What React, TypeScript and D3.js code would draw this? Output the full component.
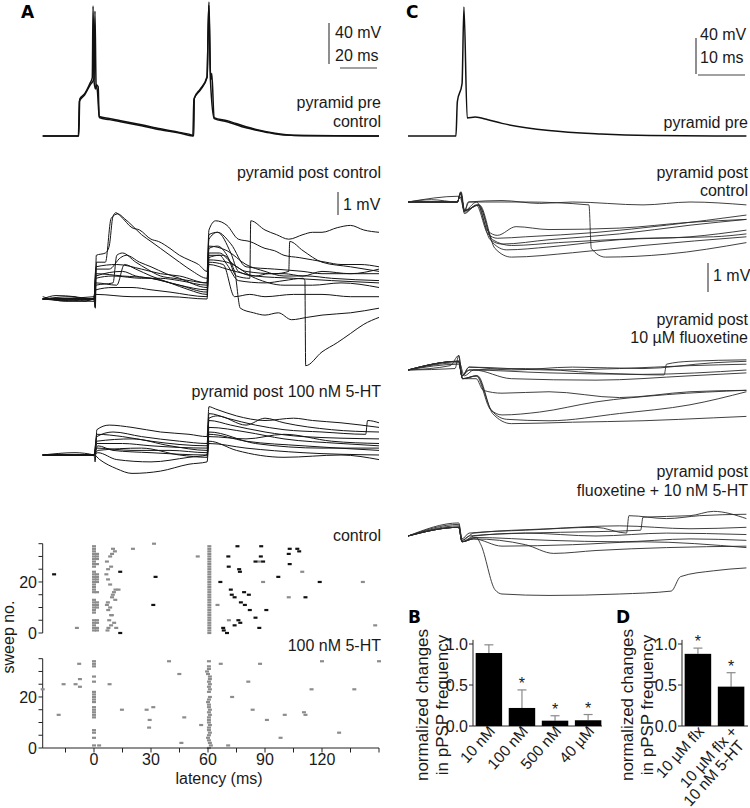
import React from 'react';
import * as d3 from 'd3';

type Pt = [number, number];

const FONT = '"Liberation Sans", Arial, Helvetica, sans-serif';
const BOLD = '"DejaVu Sans", Verdana, sans-serif';

// ---------- panel A : presynaptic pyramid, two spikes (ms, mV) ----------
const preA1: Pt[] = [[-27, -70], [-8, -70], [-7.5, -34], [-5, -29], [-2, -18], [-0.9, -13], [-0.5, 57], [0.1, -18], [0.8, -24], [1.3, -20], [2.2, -22], [2.7, -51], [8, -53], [14, -55], [25, -59], [35, -63], [45, -66.5], [52, -69.5], [52.5, -70], [52.8, -33], [56, -24], [59.5, -12], [60.5, 61], [61.4, -15], [62, -9], [63.2, -52], [70, -55], [80, -61], [90, -65.5], [100, -68.5], [110, -69.7], [150, -70]];
const preA2: Pt[] = [[-27, -70], [-8.2, -70], [-7.7, -36], [-5, -30], [-2, -20], [0, -14], [0.5, 52], [1.1, -20], [1.8, -26], [2.8, -52], [8, -54], [14, -56], [25, -60], [35, -64], [45, -67], [52, -70], [52.6, -34], [56, -25], [59.5, -13], [60.4, 58], [61.3, -16], [63.3, -53], [70, -56], [80, -62], [90, -66], [100, -69], [150, -70]];

// ---------- panel A : pyramid post, control (ms, mV above baseline) ----------
const postCtrlA: Pt[][] = [
  [[-27, 0], [-20, 0.15], [-10, 0.1], [-5, -0.1], [0, 0], [0.6, -0.35], [1.2, 1.9], [6, 2.0], [8, 2.3], [10, 3.6], [11.5, 3.75], [14, 3.6], [20, 3.1], [24, 3.0], [30, 2.6], [34, 2.5], [40, 2.2], [45, 1.9], [50, 1.7], [55, 1.5], [59.5, 1.2], [60.5, 3.0], [64, 3.4], [70, 3.2], [76, 2.6], [82, 2.5], [90, 2.2], [95, 2.1], [100, 1.9], [108, 1.8], [115, 1.7], [122, 1.6], [130, 1.5], [140, 1.5], [150, 1.4]],
  [[-27, 0.1], [-15, -0.1], [0, 0], [0.7, -0.4], [1.3, 1.6], [6, 1.6], [9, 3.5], [12.5, 3.7], [16, 3.5], [20, 3.2], [25, 2.8], [30, 2.5], [35, 2.2], [40, 1.9], [45, 1.6], [52, 1.2], [59.5, 0.9], [60.5, 2.6], [65, 2.9], [72, 2.0], [76, 1.2], [85, 1.0], [92, 1.1], [100, 1.1], [110, 1.0], [120, 1.2], [135, 1.1], [150, 1.3]],
  [[-27, 0], [-12, 0.1], [0, 0], [1, 0.6], [10, 0.7], [12, 1.9], [15, 2.0], [22, 1.6], [28, 1.3], [35, 1.0], [42, 0.9], [50, 0.8], [59.5, 0.7], [60.5, 2.2], [65, 2.3], [70, 1.9], [75, 1.0], [82, 0.9], [82.5, 3.4], [90, 3.0], [96, 2.8], [102.5, 2.6], [110, 2.8], [115, 2.9], [120, 2.9], [128, 3.1], [135, 3.2], [142, 3.0], [150, 2.9]],
  [[-27, 0], [-8, -0.1], [0, 0], [1, 1.3], [8, 1.3], [14, 1.8], [17, 1.9], [24, 1.6], [30, 1.4], [38, 1.1], [45, 0.9], [59.5, 0.5], [60.5, 2.0], [66, 2.0], [72, 1.6], [80, 1.2], [95, 1.1], [102.5, 1.2], [103, 2.5], [110, 2.1], [120, 1.6], [135, 1.4], [150, 1.2]],
  [[-27, 0], [0, 0.1], [1, 1.0], [15, 1.2], [22, 1.0], [30, 0.9], [45, 0.6], [59.5, 0.4], [60.5, 1.8], [66, 1.9], [70, 1.5], [76, 0.8], [90, 0.7], [100, 0.8], [110, 0.9], [111, 0.8], [111.4, -2.9], [120, -2.3], [128, -1.9], [135, -1.5], [142, -1.1], [150, -0.8]],
  [[-27, 0], [0, 0], [1, 0.7], [12, 0.6], [16, 1.5], [22, 1.3], [30, 1.0], [40, 0.7], [50, 0.4], [59.5, 0.2], [60.5, 1.9], [68, 1.9], [74, 1.2], [77, -0.4], [84, -0.6], [90, -0.7], [97, -0.6], [104, -0.9], [112, -0.8], [120, -0.7], [135, -0.6], [150, -0.4]],
  [[-27, 0], [0, -0.1], [1, 0.4], [10, 0.5], [20, 0.5], [30, 0.4], [40, 0.3], [59.5, 0.1], [60.5, 1.6], [68, 1.5], [74, 0.1], [82, 0.2], [90, 0.1], [105, 0.2], [120, 0.2], [135, 0.1], [150, 0.1]],
  [[-27, 0], [0, 0], [1, 0.9], [10, 1.0], [25, 0.9], [35, 0.9], [45, 0.8], [59.5, 0.6], [60.5, 2.3], [70, 2.1], [80, 1.5], [90, 1.2], [100, 1.0], [112, 1.0], [125, 0.9], [150, 0.8]],
  [[-27, 0], [0, 0], [1, 0.2], [20, 0.1], [40, 0.1], [59.5, 0.0], [60.5, 1.5], [70, 1.3], [85, 1.0], [105, 0.9], [125, 0.8], [150, 0.7]],
  [[-27, 0], [0, 0], [1, 1.4], [12, 1.5], [25, 1.3], [35, 1.1], [45, 1.0], [59.5, 0.7], [60.5, 2.8], [65, 2.9], [72, 2.4], [80, 1.4], [95, 1.3], [110, 1.2], [120, 1.1], [150, 1.1]],
  [[-27, 0], [0, 0], [1, 1.1], [15, 1.0], [30, 0.9], [45, 0.6], [59.5, 0.3], [60.5, 1.7], [70, 1.6], [85, 0.9], [100, 0.6], [115, 0.6], [130, 0.7], [150, 0.5]],
];

// ---------- panel A : pyramid post, 100 nM 5-HT ----------
const postHtA: Pt[][] = [
  [[-27, 0], [-10, 0.1], [0, 0], [0.6, -0.3], [1.5, 1.1], [8, 1.3], [20, 1.2], [35, 1.0], [50, 0.9], [59.5, 0.8], [60.5, 2.1], [64, 2.0], [75, 1.7], [90, 1.5], [105, 1.6], [115, 1.5], [130, 1.4], [150, 1.2]],
  [[-27, 0], [0, 0], [1.5, 0.8], [10, 1.0], [25, 0.8], [45, 0.6], [59.5, 0.5], [60.5, 1.8], [70, 1.6], [85, 1.3], [100, 1.1], [120, 1.0], [143, 0.9], [144, 1.5], [150, 1.4]],
  [[-27, 0], [0, 0], [1.5, 0.5], [15, 0.5], [30, 0.4], [59.5, 0.3], [60.5, 1.5], [72, 1.3], [90, 1.0], [110, 0.8], [150, 0.7]],
  [[-27, 0], [0, 0], [1.5, 0.3], [20, 0.2], [40, 0.2], [59.5, 0.1], [60.5, 1.2], [80, 1.0], [100, 0.7], [130, 0.5], [150, 0.4]],
  [[-27, 0], [0, 0], [2, 0.1], [12, -0.2], [30, -0.3], [50, -0.1], [59.5, 0], [60.5, 0.9], [80, 0.6], [110, 0.4], [150, 0.2]],
  [[-27, 0], [0, 0], [3, -0.2], [12, -0.6], [20, -0.8], [35, -0.7], [50, -0.4], [59.5, -0.3], [60.5, 0.5], [80, 0.3], [110, 0.1], [150, 0]],
  [[-27, 0], [0, 0], [1.5, 0.6], [20, 0.7], [40, 0.4], [59.5, 0.2], [60.5, 0.8], [80, 0.7], [100, 0.9], [125, 0.6], [150, 0.5]],
  [[-27, 0], [0, 0], [2, 0.2], [25, 0.3], [45, 0], [59.5, -0.1], [60.5, 0.6], [75, 0.2], [100, -0.1], [130, 0], [150, -0.2]],
  [[-27, 0], [0, 0], [1.5, 0.9], [15, 0.8], [30, 0.6], [59.5, 0.4], [60.5, 1.6], [65, 1.7], [80, 1.3], [90, 1.6], [100, 1.4], [125, 1.1], [150, 1.0]],
  [[-27, 0], [0, 0], [2, 0.4], [10, 0.2], [30, 0.1], [59.5, 0.0], [60.5, 1.0], [85, 0.5], [120, 0.3], [150, 0.3]],
];

// ---------- panel A : raster (latency ms, sweep no.) ----------
const ctrlCol0Sweeps = [1, 2, 3, 4, 5, 8, 9, 10, 11, 12, 13, 16, 17, 18, 19, 20, 21, 22, 23, 24, 26, 27, 28, 29, 30, 31, 32, 33, 34];
const ctrlCol1Sweeps = [1, 2, 4, 5, 10, 11, 12, 16, 20, 21, 22, 23, 27, 29, 30, 31];
const ctrlCol60Sweeps = [0, 1, 2, 3, 4, 5, 6, 7, 8, 9, 10, 11, 12, 13, 14, 15, 16, 17, 18, 19, 20, 21, 22, 23, 24, 25, 26, 27, 28, 29, 30, 31, 32, 33, 34];
const ctrlGray: Pt[] = [[7.1, 1], [7.6, 2], [9, 3], [8, 5], [9, 7], [7.5, 9], [6.8, 11], [7.3, 12], [9.5, 14], [10.5, 16], [11.3, 17], [8.5, 19], [7.4, 21], [6.5, 23], [7.4, 25], [9, 26], [6.8, 28], [8.5, 30], [9.5, 31], [11, 32], [10, 33], [9.9, 15], [12.9, 17], [11.2, 13], [8.5, 10], [9.4, 7], [10.6, 4], [11.7, 2], [-9, 2], [20.5, 33], [31.6, 35], [54.6, 30], [65, 11], [71, 5], [87, 28], [89, 20], [102.5, 14], [109.6, 24], [141.5, 20], [148, 3]];
const ctrlBlack: Pt[] = [[-21, 23], [13.8, 24], [13.8, 0], [32.4, 22], [31.2, 11], [66.5, 20], [70.9, 26], [76.8, 24], [76.4, 25], [72, 17], [72.5, 15], [74, 14], [79, 16], [81.5, 15], [77.3, 12], [79.4, 11], [82, 9], [85, 6], [90.7, 9], [76, 5], [77, 4], [74, 3], [68, 2], [68.3, 1], [70, 0], [87, 2], [85, 28], [89, 28], [103, 27], [97, 22], [118.8, 20], [111.3, 14], [75.5, 34], [88, 34], [107, 33], [103, 33], [70.7, 30], [87.8, 30], [102.5, 31], [108, 32]];

const htCol0Sweeps = [34, 33, 32, 28, 26, 22, 21, 20, 19, 18, 16, 15, 14, 13, 12, 7, 6, 4, 1];
const htCol60: Pt[] = [[60.5, 0], [61.5, 1], [61, 2], [60.5, 3], [60, 4], [60.5, 5], [61, 6], [60.5, 7], [60.5, 8], [61, 9], [60.5, 10], [60.5, 11], [60.5, 12], [61, 13], [60.5, 14], [61, 15], [60.5, 16], [60.5, 17], [60, 18], [60.5, 19], [61, 20], [60.5, 22], [61, 23], [60.5, 24], [61, 25], [60.5, 26], [61, 27], [61, 28], [60, 29], [59.5, 30], [60.5, 31], [60.5, 32], [60.5, 34]];
const htGray: Pt[] = [[2.7, 1], [-27, 23], [-18.6, 13], [-16, 25], [-9.7, 25], [-7.4, 27], [-7.8, 33], [-7.4, 24], [8.2, 25], [14.7, 15], [27.7, 15], [31.2, 16], [29.3, 11], [29, 8], [39.5, 34], [44.9, 29], [46, 2], [47.5, 12], [56.4, 9], [66.7, 33], [70.6, 1], [72.7, 20], [81.2, 26], [83.5, 15], [87.4, 33], [91, 11], [98.2, 4], [100.4, 13], [110.5, 14], [111.3, 13], [114.5, 23], [120, 34], [129, 6], [137, 23], [150, 34]];

// ---------- panel B / D : normalized change in pPSP frequency ----------
const bCats = ['10 nM', '100 nM', '500 nM', '40 µM'];
const bMean = [0.89, 0.22, 0.065, 0.07];
const bErr = [0.1, 0.22, 0.06, 0.07];
const bStar = [false, true, true, true];

const dCats = [['10 µM flx'], ['10 µM flx +', '10 nM 5-HT']];
const dMean = [0.88, 0.48];
const dErr = [0.07, 0.17];
const dStar = [true, true];

const barTicks = [0, 0.5, 1.0];

// ---------- panel C : presynaptic spike (ms, mV) ----------
const preC: Pt[] = [[0, -70], [10.2, -70], [10.5, -32], [11.5, -12], [11.9, 73], [12.6, -50], [14.3, -49], [17, -52], [20, -56], [30, -64], [41, -67.8], [51.5, -69.4], [72, -70]];

// ---------- panel C : pyramid post, control ----------
const postCtrlC: Pt[][] = [
  [[0, 0], [5, 0.08], [10.5, 0], [11.2, 0.35], [12, -0.35], [12.8, 0], [20, 0.05], [28, -0.05], [35, 0], [50, -0.1], [60, 0], [72, -0.1]],
  [[0, 0], [10.5, 0], [11.2, 0.3], [12, -0.3], [13, 0], [25, 0], [38.5, -0.1], [39, -1.6], [42, -1.9], [55, -1.8], [72, -1.4]],
  [[0, 0], [10.5, 0], [11.2, 0.3], [12, -0.4], [14.5, -0.1], [17, -1.1], [19, -1.25], [25, -1.2], [40, -1.05], [55, -0.8], [72, -0.45]],
  [[0, 0], [10.5, 0], [11.3, 0.35], [12.1, -0.35], [14.8, -0.1], [17.5, -1.3], [20, -1.45], [30, -1.3], [45, -1.1], [60, -0.8], [72, -0.6]],
  [[0, 0], [10.5, 0], [11.2, 0.3], [12, -0.3], [15, -0.1], [18, -1.4], [21, -1.65], [30, -1.55], [45, -1.3], [60, -1.2], [72, -0.97]],
  [[0, 0], [10.5, 0], [11.2, 0.3], [12, -0.3], [15.2, -0.1], [18.5, -1.6], [22, -1.9], [35, -1.75], [50, -1.5], [72, -1.2]],
  [[0, 0], [10.5, 0], [11.2, 0.3], [12, -0.3], [14.6, 0], [17, -1.0], [19, -1.15], [23, -0.85], [30, -0.95], [45, -0.9], [60, -0.7], [72, -0.6]],
  [[0, 0], [11, 0.2], [12, -0.3], [15, -0.1], [18, -1.3], [22, -1.5], [32, -1.4], [50, -1.25], [65, -1.2], [72, -1.1]],
];

// ---------- panel C : pyramid post, 10 µM fluoxetine ----------
const postFlxC: Pt[][] = [
  [[0, 0], [10, 0.05], [10.8, 0.5], [11.4, -0.2], [13, 0], [25, 0.05], [40, -0.1], [54.5, -0.17], [55, 0.2], [60, 0.3], [72, 0.35]],
  [[0, 0], [10.8, 0.3], [11.5, -0.2], [13, 0.1], [30, 0], [45, 0.05], [60, 0.15], [72, 0.2]],
  [[0, 0], [10.8, 0.2], [11.5, -0.2], [13, 0], [30, -0.1], [50, -0.15], [72, 0]],
  [[0, 0], [10.8, 0.3], [12, -0.2], [14, 0], [22, -0.3], [40, -0.35], [60, -0.2], [72, -0.1]],
  [[0, 0], [10.8, 0.3], [11.6, -0.3], [14.5, -0.2], [17.5, -1.35], [20, -1.55], [28, -1.45], [40, -1.1], [55, -0.85], [72, -0.7]],
  [[0, 0], [10.8, 0.3], [11.6, -0.3], [14.6, -0.2], [17.8, -1.4], [21, -1.7], [30, -1.75], [45, -1.5], [60, -1.2], [72, -0.75]],
  [[0, 0], [10.8, 0.25], [11.6, -0.3], [14.8, -0.2], [18, -1.5], [22, -1.85], [35, -1.8], [50, -1.75], [65, -1.65], [72, -1.6]],
  [[0, 0], [10.8, 0.3], [11.6, -0.3], [14.5, -0.3], [16, -0.7], [20, -0.8], [30, -0.75], [45, -0.95], [60, -0.75], [72, -0.7]],
  [[0, 0], [9, 0.15], [10.8, 0.5], [11.6, -0.2], [13, 0.1], [22, 0], [35, 0.1], [50, 0.05], [65, 0.25], [72, 0.3]],
];

// ---------- panel C : pyramid post, fluoxetine + 10 nM 5-HT ----------
const postFlxHtC: Pt[][] = [
  [[0, 0], [10.8, 0.45], [11.5, -0.1], [13, 0.1], [25, 0.2], [40, 0.3], [46.5, 0.1], [47, 0.7], [55, 0.6], [62, 0.7], [72, 0.75]],
  [[0, 0], [10.8, 0.4], [11.5, -0.15], [13, 0], [25, 0.1], [40, 0.15], [49.5, 0.2], [50, 0.65], [60, 0.7], [65, 0.85], [72, 0.6]],
  [[0, 0], [10.8, 0.3], [11.5, -0.2], [14, -0.1], [25, -0.3], [31, -0.6], [40, -0.5], [55, -0.4], [72, -0.35]],
  [[0, 0], [10.8, 0.3], [11.5, -0.2], [14, 0], [25, 0.1], [40, 0], [55, 0.1], [72, 0.05]],
  [[0, 0], [10.8, 0.3], [11.5, -0.2], [14, -0.05], [30, -0.15], [45, -0.2], [60, -0.1], [72, -0.15]],
  [[0, 0], [10.8, 0.35], [11.5, -0.15], [14, 0.1], [30, 0.25], [45, 0.35], [60, 0.25], [72, 0.3]],
  [[0, 0], [10.8, 0.3], [11.5, -0.2], [14, -0.1], [20, -0.35], [35, -0.3], [50, -0.2], [72, -0.4]],
  [[0, 0], [10.8, 0.3], [11.5, -0.2], [14.5, -0.05], [15.5, -0.3], [18.5, -1.85], [20, -2.0], [30, -2.05], [45, -2.0], [56, -1.9], [58, -1.4], [65, -1.2], [72, -1.1]],
];

function path(pts: Pt[], xs: d3.ScaleLinear<number, number>, ys: d3.ScaleLinear<number, number>) {
  return d3.line<Pt>().curve(d3.curveMonotoneX).x(d => xs(d[0])).y(d => ys(d[1]))(pts) || '';
}

function Label({ x, y, children, anchor = 'end', size = 16 }: any) {
  return <text x={x} y={y} textAnchor={anchor} fontSize={size} fill="#1a1a1a">{children}</text>;
}

function Bars({ cats, mean, err, star, x0, x1, axisEnd, letter, letterX, ylab1X }: any) {
  const xb = d3.scaleBand<number>().domain(cats.map((_: any, i: number) => i)).range([x0 + 1, x1]).paddingInner(0.2).paddingOuter(0.05);
  const yb = d3.scaleLinear().domain([0, 1]).range([726, 644]);
  return (
    <g>
      <text x={letterX} y={623} fontFamily={BOLD} fontWeight="bold" fontSize={17}>{letter}</text>
      <text transform={`translate(${ylab1X},705) rotate(-90)`} textAnchor="middle" fontSize={17} fill="#1a1a1a">
        <tspan x={0} dy={0}>normalized changes</tspan>
        <tspan x={0} dy="1.2em">in pPSP frequency</tspan>
      </text>
      <line x1={x0} x2={x0} y1={yb(1.05)} y2={yb(0)} stroke="#222" />
      <line x1={x0} x2={axisEnd} y1={yb(0)} y2={yb(0)} stroke="#222" />
      {barTicks.map(t => (
        <g key={t}>
          <line x1={x0 - 4} x2={x0} y1={yb(t)} y2={yb(t)} stroke="#222" />
          <text x={x0 - 5} y={yb(t)} dy="0.36em" textAnchor="end" fontSize={16} fill="#1a1a1a">{t.toFixed(1)}</text>
        </g>
      ))}
      {mean.map((m: number, i: number) => {
        const bx = xb(i) as number;
        const bw = xb.bandwidth();
        const cx = bx + bw / 2;
        const top = yb(m + err[i]);
        return (
          <g key={i}>
            <line x1={cx} x2={cx} y1={yb(m)} y2={top} stroke="#8a8a8a" strokeWidth={1.2} />
            <line x1={cx - 4.5} x2={cx + 4.5} y1={top} y2={top} stroke="#8a8a8a" strokeWidth={1.2} />
            <rect x={bx} y={yb(m)} width={bw} height={yb(0) - yb(m)} fill="#000" />
            {star[i] && <text x={cx} y={top - 1} textAnchor="middle" fontSize={16} fill="#1a1a1a">*</text>}
            <text transform={`translate(${cx + 7},732) rotate(-48)`} textAnchor="end" fontSize={15.5} fill="#1a1a1a">
              {(Array.isArray(cats[i]) ? cats[i] : [cats[i]]).map((s: string, k: number) => (
                <tspan key={k} x={k ? -6 : 0} dy={k ? '0.95em' : 0}>{s}</tspan>
              ))}
            </text>
          </g>
        );
      })}
    </g>
  );
}

export default function App() {
  // panel A
  const xA = d3.scaleLinear().domain([-27, 150]).range([42.7, 379]);
  const yPreA = d3.scaleLinear().domain([-70, 58]).range([136, 5]);
  const yCtrlA = d3.scaleLinear().domain([0, 1]).range([299, 276]);
  const yHtA = d3.scaleLinear().domain([0, 1]).range([455, 432]);
  const ySwC = d3.scaleLinear().domain([0, 35]).range([633, 543.7]);
  const ySwH = d3.scaleLinear().domain([0, 35]).range([748, 658.7]);
  // panel C
  const xC = d3.scaleLinear().domain([0, 72]).range([408, 746.4]);
  const yPreC = d3.scaleLinear().domain([-70, 73]).range([136, 7]);
  const yCtrlC = d3.scaleLinear().domain([0, 1]).range([202, 173]);
  const yFlxC = d3.scaleLinear().domain([0, 1]).range([370, 341]);
  const yFlxHtC = d3.scaleLinear().domain([0, 1]).range([536, 507]);

  const ctrlGrayAll: Pt[] = [
    ...ctrlCol0Sweeps.map(s => [0, s] as Pt),
    ...ctrlCol1Sweeps.map(s => [1.6, s] as Pt),
    ...ctrlCol60Sweeps.map(s => [60.7, s] as Pt),
    ...ctrlGray,
  ];
  const htGrayAll: Pt[] = [...htCol0Sweeps.map(s => [0, s] as Pt), ...htCol60, ...htGray];

  const dot = (p: Pt, ys: any, fill: string, k: string) => (
    <rect key={k} x={xA(p[0]) - 2} y={ys(p[1]) - 1.1} width={4} height={2.2} fill={fill} />
  );

  const swTicks = [0, 5, 10, 15, 20, 25, 30, 35];
  const latTicks = [-15, 0, 15, 30, 45, 60, 75, 90, 105, 120, 135, 150];

  return (
    <svg width={750} height={808} style={{ position: 'absolute', left: 0, top: 0, background: '#fff' }} fontFamily={FONT}>
      {/* ----- A ----- */}
      <text x={21} y={18} fontFamily={BOLD} fontWeight="bold" fontSize={17}>A</text>
      <path d={path(preA2, xA, yPreA)} fill="none" stroke="#111" strokeWidth={1.5} />
      <path d={path(preA1, xA, yPreA)} fill="none" stroke="#111" strokeWidth={1.5} />
      <line x1={329} x2={329} y1={23} y2={64} stroke="#444" strokeWidth={1.2} />
      <line x1={340} x2={377} y1={68} y2={68} stroke="#444" strokeWidth={1.2} />
      <Label x={335} y={38} anchor="start">40 mV</Label>
      <Label x={335} y={61} anchor="start">20 ms</Label>
      <Label x={381} y={108}>pyramid pre</Label>
      <Label x={381} y={127}>control</Label>

      <Label x={381} y={178}>pyramid post control</Label>
      <line x1={338} x2={338} y1={192} y2={215} stroke="#222" />
      <Label x={343} y={210} anchor="start">1 mV</Label>
      {postCtrlA.map((t, i) => <path key={i} d={path(t, xA, yCtrlA)} fill="none" stroke="#151515" strokeWidth={1} />)}

      <Label x={381} y={397}>pyramid post 100 nM 5-HT</Label>
      {postHtA.map((t, i) => <path key={i} d={path(t, xA, yHtA)} fill="none" stroke="#151515" strokeWidth={1} />)}

      {/* raster */}
      <Label x={381} y={541}>control</Label>
      <Label x={381} y={651}>100 nM 5-HT</Label>
      <text transform="translate(14,637) rotate(-90)" textAnchor="middle" fontSize={16} fill="#1a1a1a">sweep no.</text>
      {[ySwC, ySwH].map((ys, j) => (
        <g key={j}>
          <line x1={42.7} x2={42.7} y1={ys(35)} y2={ys(0)} stroke="#222" />
          {swTicks.map(t => <line key={t} x1={38.5} x2={42.7} y1={ys(t)} y2={ys(t)} stroke="#222" />)}
          {[0, 20].map(t => <text key={t} x={37} y={ys(t)} dy="0.36em" textAnchor="end" fontSize={16} fill="#1a1a1a">{t}</text>)}
        </g>
      ))}
      {ctrlGrayAll.map((p, i) => dot(p, ySwC, '#8c8c8c', 'cg' + i))}
      {ctrlBlack.map((p, i) => dot(p, ySwC, '#111', 'cb' + i))}
      {htGrayAll.map((p, i) => dot(p, ySwH, '#8c8c8c', 'hg' + i))}
      <line x1={42.7} x2={379} y1={748} y2={748} stroke="#222" />
      {latTicks.map(t => <line key={t} x1={xA(t)} x2={xA(t)} y1={748} y2={752.5} stroke="#222" />)}
      {[0, 30, 60, 90, 120].map(t => <text key={t} x={xA(t)} y={765} textAnchor="middle" fontSize={16} fill="#1a1a1a">{t}</text>)}
      <text x={219} y={784} textAnchor="middle" fontSize={16} fill="#1a1a1a">latency (ms)</text>

      {/* ----- C ----- */}
      <text x={406} y={18} fontFamily={BOLD} fontWeight="bold" fontSize={17}>C</text>
      <path d={path(preC, xC, yPreC)} fill="none" stroke="#111" strokeWidth={1.5} />
      <line x1={696} x2={696} y1={38} y2={74} stroke="#444" strokeWidth={1.2} />
      <line x1={698} x2={745} y1={75} y2={75} stroke="#444" strokeWidth={1.2} />
      <Label x={700} y={40} anchor="start">40 mV</Label>
      <Label x={700} y={63} anchor="start">10 ms</Label>
      <Label x={748} y={128}>pyramid pre</Label>

      <Label x={748} y={178}>pyramid post</Label>
      <Label x={748} y={196}>control</Label>
      {postCtrlC.map((t, i) => <path key={i} d={path(t, xC, yCtrlC)} fill="none" stroke="#2a2a2a" strokeWidth={0.9} />)}
      <line x1={708} x2={708} y1={263} y2={292} stroke="#222" />
      <Label x={713} y={281} anchor="start">1 mV</Label>

      <Label x={748} y={325}>pyramid post</Label>
      <Label x={748} y={343}>10 µM fluoxetine</Label>
      {postFlxC.map((t, i) => <path key={i} d={path(t, xC, yFlxC)} fill="none" stroke="#2a2a2a" strokeWidth={0.9} />)}

      <Label x={748} y={477}>pyramid post</Label>
      <Label x={748} y={496}>fluoxetine + 10 nM 5-HT</Label>
      {postFlxHtC.map((t, i) => <path key={i} d={path(t, xC, yFlxHtC)} fill="none" stroke="#2a2a2a" strokeWidth={0.9} />)}

      {/* ----- B / D ----- */}
      <Bars cats={bCats} mean={bMean} err={bErr} star={bStar} x0={473} x1={603} axisEnd={602} letter="B" letterX={408} ylab1X={428} />
      <Bars cats={dCats} mean={dMean} err={dErr} star={dStar} x0={682} x1={746} axisEnd={748} letter="D" letterX={616} ylab1X={633} />
    </svg>
  );
}
